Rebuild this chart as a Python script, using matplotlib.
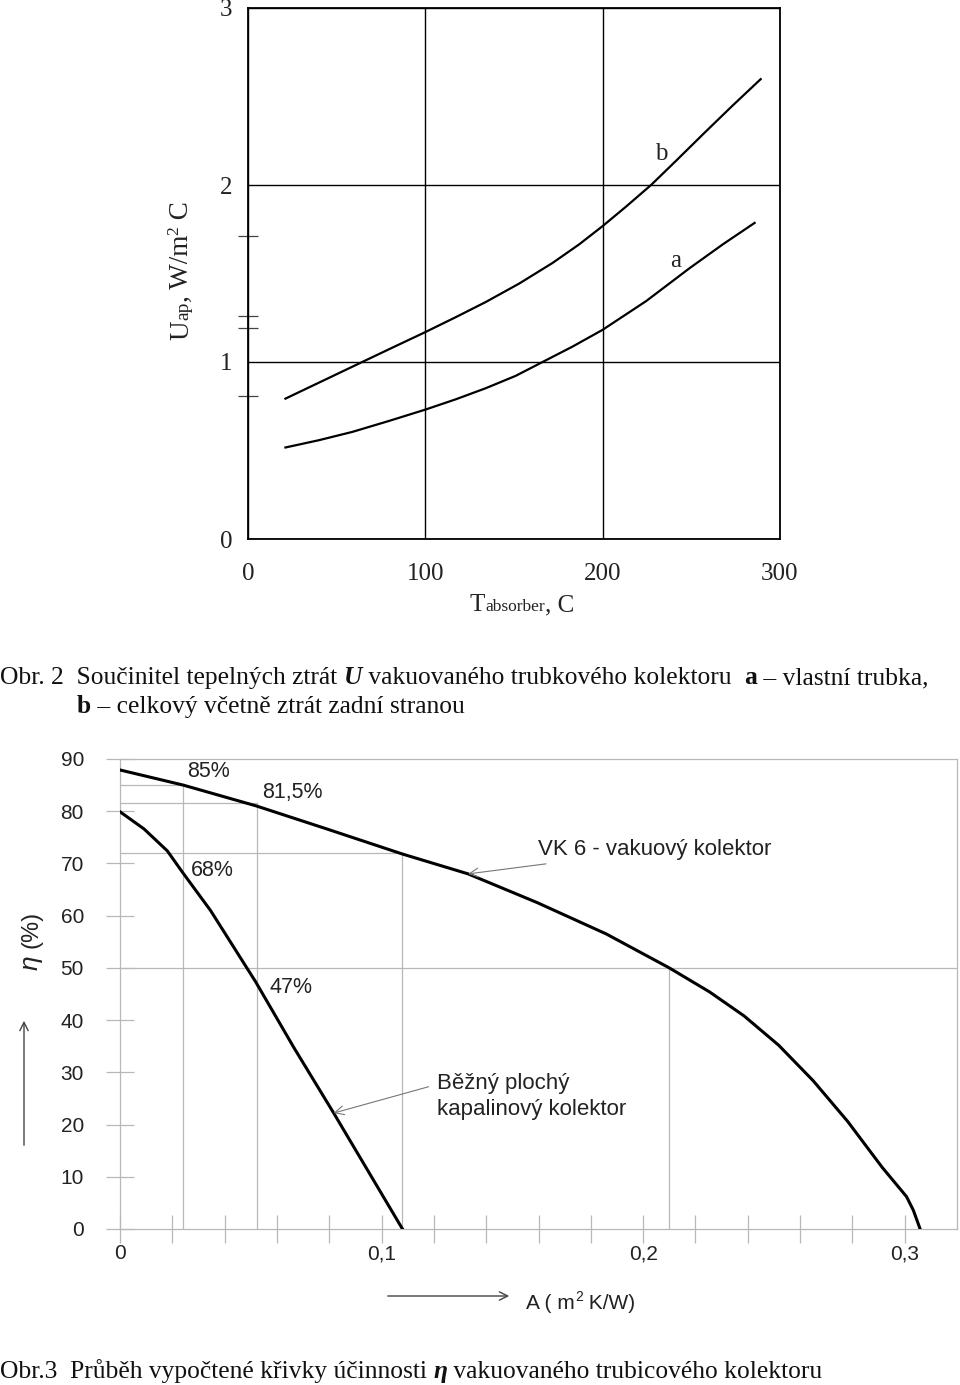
import numpy as np
import matplotlib
matplotlib.use("Agg")
import matplotlib.pyplot as plt
from matplotlib.patches import FancyArrowPatch
from matplotlib.transforms import IdentityTransform

W, H = 960, 1385
SERIF = "Liberation Serif"
SANS = "Liberation Sans"

# --- Obr. 2 : U_ap vs T_absorber ---
t_b = [21.1, 64.4, 81.4, 100, 117.1, 134.1, 152.9, 171.8, 186.8, 200, 213.2, 227.3, 241.4, 256.5, 273.4, 289.1]
u_b = [0.793, 1.0, 1.081, 1.169, 1.253, 1.339, 1.443, 1.560, 1.665, 1.768, 1.878, 2.0, 2.137, 2.286, 2.450, 2.598]
t_a = [21.1, 39.9, 58.8, 79.5, 100, 117.1, 134.1, 151, 166.1, 183, 200, 224.5, 249, 267.8, 285.7]
u_a = [0.517, 0.558, 0.605, 0.667, 0.731, 0.789, 0.852, 0.922, 1.0, 1.087, 1.182, 1.344, 1.530, 1.665, 1.786]
u_marks = [0.81, 1.19, 1.26, 1.71]

# --- Obr. 3 : efficiency curves ---
a_vk = [0, 0.0242, 0.0522, 0.0791, 0.108, 0.1331, 0.1595, 0.1859, 0.21, 0.2254, 0.2386,
        0.2518, 0.265, 0.2782, 0.2914, 0.3007, 0.3033, 0.3059]
eta_vk = [87.9, 85.0, 81.0, 76.6, 71.8, 68.0, 62.5, 56.5, 50.0, 45.4, 40.8,
          35.2, 28.4, 20.6, 11.8, 6.2, 3.6, 0]
a_fl = [0, 0.0092, 0.0181, 0.0239, 0.0346, 0.0519, 0.0664, 0.0817, 0.108]
eta_fl = [79.9, 76.6, 72.4, 68.3, 61.0, 47.3, 34.8, 22.2, 0]
# guide lines (x, y) from the axes to the curve
guides = [(0.0242, 85), (0.0522, 81.5), (0.108, 72), (0.21, 50)]
pct_labels = [("85%", 0.0256, 87.7), ("81,5%", 0.0543, 83.5), ("68%", 0.0271, 68.6), ("47%", 0.0573, 46.3)]

fig = plt.figure(figsize=(W / 100, H / 100), dpi=100)
renderer = fig.canvas.get_renderer()
ID = IdentityTransform()


def run_width(s, **kw):
    t1 = fig.text(0, 0, "|" + s + "|", **kw)
    t2 = fig.text(0, 0, "||", **kw)
    w = t1.get_window_extent(renderer).width - t2.get_window_extent(renderer).width
    t1.remove()
    t2.remove()
    return w


def write_runs(x, y, runs, rotation=0):
    # x, y in image pixels (y from top)
    x, y = x, H - y
    for s, kw in runs:
        kw = dict(kw)
        rise = kw.pop("rise", 0)
        if rotation == 0:
            fig.text(x, y + rise, s, transform=ID, ha="left", va="baseline", **kw)
            x += run_width(s, **kw)
        else:
            fig.text(x - rise, y, s, transform=ID, ha="left", va="baseline",
                     rotation=90, rotation_mode="anchor", **kw)
            y += run_width(s, **kw)


# ---------------- top chart ----------------
ax1 = fig.add_axes([248 / W, 1 - 539 / H, (780 - 248) / W, (539 - 8) / H])
ax1.plot(t_b, u_b, color="black", lw=1.6)
ax1.plot(t_a, u_a, color="black", lw=1.6)
ax1.set_xlim(0, 300)
ax1.set_ylim(0, 3)
ax1.set_xticks([0, 100, 200, 300])
ax1.set_yticks([0, 1, 2, 3])
ax1.set_yticks(u_marks, minor=True)
ax1.grid(True, which="major", color="black", lw=1.0)
ax1.tick_params(which="major", length=0, labelsize=18, pad=11, labelcolor="#222222")
ax1.tick_params(axis="x", which="major", pad=17)
ax1.tick_params(which="minor", direction="inout", length=15, width=0.9, color="#444444")
for lab in ax1.get_xticklabels() + ax1.get_yticklabels():
    lab.set_fontfamily(SERIF)
for sp in ax1.spines.values():
    sp.set_linewidth(1.3)
ax1.text(233, 2.175, "b", fontfamily=SERIF, fontsize=18, ha="center", va="center", color="#222222")
ax1.text(241.4, 1.573, "a", fontfamily=SERIF, fontsize=18, ha="center", va="center", color="#222222")

big = dict(fontfamily=SERIF, fontsize=19.5, color="#222222")
small = dict(fontfamily=SERIF, fontsize=14, color="#222222")
sup = dict(fontfamily=SERIF, fontsize=12.5, color="#222222", rise=10)
write_runs(188, 340, [("U", big), ("ap", small), (", W/m", big), ("2", sup), (" C", big)], rotation=90)
big_x = dict(fontfamily=SERIF, fontsize=18, color="#222222")
small_x = dict(fontfamily=SERIF, fontsize=12.5, color="#222222")
write_runs(470, 611, [("T", big_x), ("absorber", small_x), (", C", big_x)])

cap = dict(fontfamily=SERIF, fontsize=18.4, color="#111111")
cap_b = dict(fontfamily=SERIF, fontsize=18.4, color="#111111", fontweight="bold")
cap_bi = dict(fontfamily=SERIF, fontsize=18.4, color="#111111", fontweight="bold", fontstyle="italic")
write_runs(0, 684, [("Obr. 2  Součinitel tepelných ztrát ", cap), ("U", cap_bi),
                    (" vakuovaného trubkového kolektoru  ", cap), ("a", cap_b),
                    (" – vlastní trubka,", cap)])
write_runs(77, 713, [("b", cap_b), (" – celkový včetně ztrát zadní stranou", cap)])

# ---------------- bottom chart ----------------
ax2 = fig.add_axes([120 / W, 1 - 1229 / H, (957 - 120) / W, (1229 - 759) / H])
gcol = "#b8b8b8"
for gx, gy in guides:
    ax2.plot([0, gx if gy != 50 else 0.32], [gy, gy], color=gcol, lw=0.9, zorder=1)
    ax2.plot([gx, gx], [0, gy], color=gcol, lw=0.9, zorder=1)
ax2.plot(a_vk, eta_vk, color="black", lw=2.2, zorder=3)
ax2.plot(a_fl, eta_fl, color="black", lw=2.2, zorder=3)
ax2.set_xlim(0, 0.32)
ax2.set_ylim(0, 90)
ax2.set_xticks([0, 0.1, 0.2, 0.3])
ax2.set_xticklabels(["0", "0,1", "0,2", "0,3"])
ax2.set_xticks(np.arange(0.02, 0.32, 0.02), minor=True)
ax2.set_yticks(np.arange(0, 91, 10))
ax2.tick_params(which="both", direction="inout", length=20, width=0.9, color=gcol,
                labelsize=15, labelcolor="#222222")
ax2.tick_params(axis="y", pad=16)
ax2.tick_params(axis="x", pad=1)
for lab in ax2.get_xticklabels() + ax2.get_yticklabels():
    lab.set_fontfamily(SANS)
for sp in ax2.spines.values():
    sp.set_color(gcol)
    sp.set_linewidth(0.9)

lab_kw = dict(fontfamily=SANS, fontsize=15.5, color="#222222", ha="left", va="center")
for s, lx, ly in pct_labels:
    ax2.text(lx, ly, s, **lab_kw)
ax2.annotate("VK 6 - vakuový kolektor", xy=(0.1331, 68.0), xytext=(0.1597, 72.6),
             fontfamily=SANS, fontsize=16, color="#222222", va="center", ha="left",
             arrowprops=dict(arrowstyle="->", color="#777777", lw=0.8, shrinkA=4, shrinkB=0))
ax2.annotate("Běžný plochý\nkapalinový kolektor", xy=(0.0817, 22.2), xytext=(0.1211, 25.4),
             fontfamily=SANS, fontsize=16, color="#222222", va="center", ha="left",
             linespacing=1.35,
             arrowprops=dict(arrowstyle="->", color="#777777", lw=0.8, shrinkA=4, shrinkB=0,
                             relpos=(0, 0.75)))

# eta label and arrow
fig.text(31 / W, 1 - 948 / H, "(%)", fontfamily=SANS, fontsize=17, rotation=90,
         ha="center", va="bottom", color="#222222")
fig.text(31 / W, 1 - 948 / H, "η ", fontfamily=SANS, fontsize=19, fontstyle="italic",
         rotation=90, ha="center", va="top", color="#222222")
fig.add_artist(FancyArrowPatch((24, H - 1148), (24, H - 1018), transform=ID,
               arrowstyle="->,head_length=6,head_width=3", color="#444444", lw=1.0))
# x label and arrow
fig.add_artist(FancyArrowPatch((385, H - 1296), (512, H - 1296), transform=ID,
               arrowstyle="->,head_length=6,head_width=3", color="#444444", lw=1.0))
sl = dict(fontfamily=SANS, fontsize=15, color="#222222")
ss = dict(fontfamily=SANS, fontsize=10, color="#222222", rise=8)
write_runs(526, 1309, [("A ( m", sl), ("2", ss), (" K/W)", sl)])

write_runs(0, 1378, [("Obr.3  Průběh vypočtené křivky účinnosti ", cap), ("η", cap_bi),
                     (" vakuovaného trubicového kolektoru", cap)])

fig.savefig("out.png", dpi=100)
